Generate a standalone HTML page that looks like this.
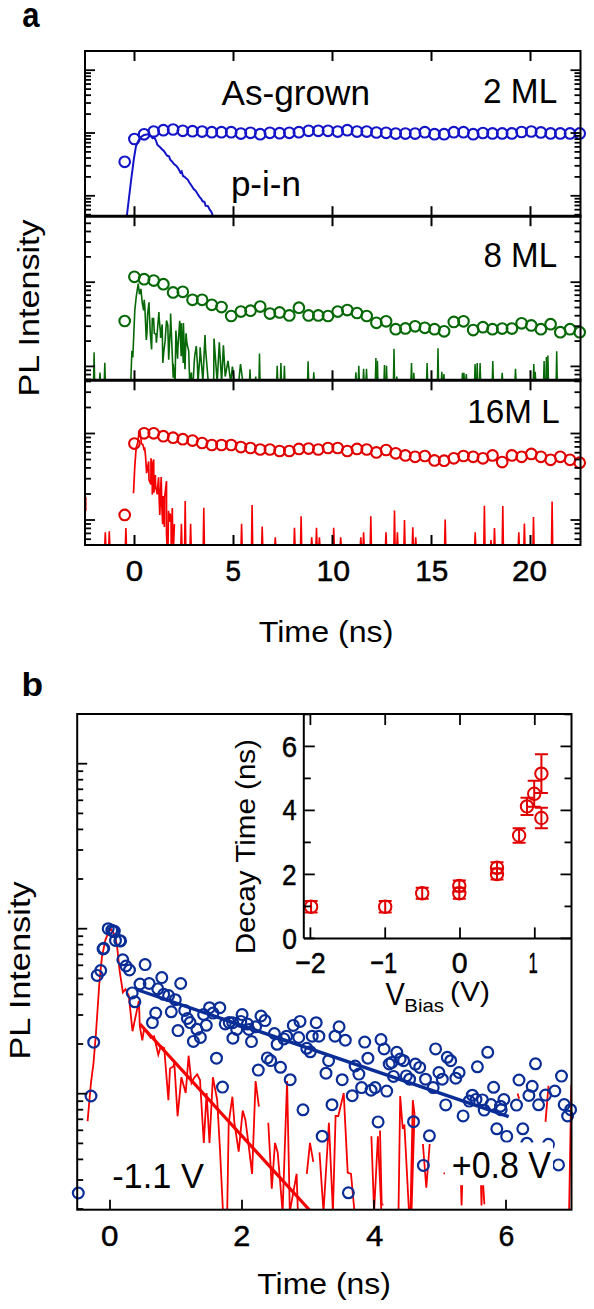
<!DOCTYPE html>
<html><head><meta charset="utf-8"><title>figure</title>
<style>html,body{margin:0;padding:0;background:#fff;}body{width:594px;height:1309px;overflow:hidden;}svg{display:block;}text{font-family:"Liberation Sans",sans-serif;}</style>
</head><body>
<svg width="594" height="1309" viewBox="0 0 594 1309">
<rect width="594" height="1309" fill="#fff"/>
<defs>
<clipPath id="ca1"><rect x="85" y="51" width="495.5" height="165.2"/></clipPath>
<clipPath id="ca2"><rect x="85" y="216.2" width="495.5" height="164.10000000000002"/></clipPath>
<clipPath id="ca3"><rect x="85" y="380.3" width="495.5" height="164.7"/></clipPath>
<clipPath id="cb"><rect x="77.2" y="714" width="494.3" height="495.7"/></clipPath>
</defs>
<g clip-path="url(#ca1)">
<polyline points="126.7,217 131,181 134,158 136,146 138.5,140.5 141,137 144,135 147,134.6 149,134.3 150.7,136 152.5,138.1 153.8,136.9 155.9,140.3 157.3,144.8 159,146.3 160.6,147.7 162,149.2 164.1,151.2 166,154.1 167.3,155.8 169,156.3 170.3,159.8 172,161.4 174,164.1 176.2,165.7 178.2,168.3 180.3,172.4 181.6,171.3 183,176 184.6,176.8 186.1,178.2 187.7,179.6 189.5,182.7 191.6,185.7 193.7,189 195.9,191.1 197.3,193.5 199.5,196.8 201.2,198.8 202.6,201.3 204.4,201.9 205.7,205.8 207.9,206.1 209.9,210 211.2,211.5 213.2,216.5 214.4,217.5" fill="none" stroke="#1414c8" stroke-width="2.0" stroke-linejoin="miter" />
</g>
<g fill="none" stroke="#1414c8" stroke-width="2.1"><circle cx="124.7" cy="161.8" r="5.3"/><circle cx="134.4" cy="139" r="5.3"/><circle cx="144.1" cy="134.3" r="5.3"/><circle cx="153.7" cy="131.6" r="5.3"/><circle cx="163.4" cy="130.2" r="5.3"/><circle cx="173.1" cy="129.5" r="5.3"/><circle cx="182.8" cy="130.8" r="5.3"/><circle cx="192.5" cy="131.2" r="5.3"/><circle cx="202.1" cy="131.6" r="5.3"/><circle cx="211.8" cy="132.2" r="5.3"/><circle cx="221.5" cy="132.2" r="5.3"/><circle cx="231.2" cy="132.2" r="5.3"/><circle cx="240.9" cy="133.6" r="5.3"/><circle cx="250.5" cy="132.8" r="5.3"/><circle cx="260.2" cy="134.2" r="5.3"/><circle cx="269.9" cy="132.8" r="5.3"/><circle cx="279.6" cy="133.2" r="5.3"/><circle cx="289.3" cy="132.8" r="5.3"/><circle cx="298.9" cy="132.2" r="5.3"/><circle cx="308.6" cy="130.8" r="5.3"/><circle cx="318.3" cy="130.8" r="5.3"/><circle cx="328" cy="130.8" r="5.3"/><circle cx="337.7" cy="131.6" r="5.3"/><circle cx="347.3" cy="130.2" r="5.3"/><circle cx="357" cy="131.6" r="5.3"/><circle cx="366.7" cy="131.6" r="5.3"/><circle cx="376.4" cy="132.5" r="5.3"/><circle cx="386.1" cy="132.8" r="5.3"/><circle cx="395.7" cy="133.6" r="5.3"/><circle cx="405.4" cy="133.6" r="5.3"/><circle cx="415.1" cy="133.6" r="5.3"/><circle cx="424.8" cy="132.2" r="5.3"/><circle cx="434.5" cy="134.2" r="5.3"/><circle cx="444.1" cy="134.2" r="5.3"/><circle cx="453.8" cy="132.2" r="5.3"/><circle cx="463.5" cy="132.2" r="5.3"/><circle cx="473.2" cy="134.2" r="5.3"/><circle cx="482.9" cy="133" r="5.3"/><circle cx="492.5" cy="133.4" r="5.3"/><circle cx="502.2" cy="133.4" r="5.3"/><circle cx="511.9" cy="133.4" r="5.3"/><circle cx="521.6" cy="132" r="5.3"/><circle cx="531.3" cy="131.5" r="5.3"/><circle cx="540.9" cy="132.4" r="5.3"/><circle cx="550.6" cy="133.4" r="5.3"/><circle cx="560.3" cy="133.4" r="5.3"/><circle cx="570" cy="133.4" r="5.3"/><circle cx="579.7" cy="133.4" r="5.3"/></g>
<g clip-path="url(#ca2)">
<polyline points="130.8,381 131.9,350.8 132.8,357.5 134.8,310.4 136.2,297 138.2,283.5 139.5,294.2 140.9,288.9 142.2,302.3 143.6,310.4 144.2,299.7 144.9,307.7 146.3,340 147,332.5 147.6,314.4 149,302.3 149.3,311.9 150.3,333.3 151.6,349.5 152.3,318.5 153.6,318.5 154.3,333.3 156,334.3 156.4,342.7 158.9,312.1 159.1,317.1 160.4,332 160.6,338 162.2,324.4 162.8,362.9 163.8,351.7 165.1,341.4 166.5,320.5 167.8,325.2 168.7,359.8 170.5,323.9 170.6,313.6 173.2,377.7 173.2,363.8 175.1,382.3 175.9,330.6 177.6,358.8 177.9,348.1 179.7,320.9 181.2,356.3 181.3,323.2 183.3,362.9 183.4,323.1 185,369.2 186,333.3 186.9,343.3 188.7,350.8 189.7,382.3 191.4,372.4 191.6,382.3 193.4,377.7 194.2,362.8 194.7,356.2 196.3,346 197.4,364.3 198,382.3 200,354.8 200.1,347.2 202.9,381.1 205,335 205.6,349.5 208.3,382.3 211.1,382.3 213.7,382.3 214,338.6 215.3,356.3 217.2,382.3 219.3,342.3 221.6,382.3 223.4,345.4 225.2,376.5 228,360.9 230.7,382.3 232.4,366.7 234.3,382.3 236.9,382.3 238.7,382.3 240.5,364 242.9,382.3 244.7,382.3" fill="none" stroke="#066806" stroke-width="1.6" stroke-linejoin="miter" />
<polyline points="93.5,382.3 94.1,352.3 94.7,382.3" fill="none" stroke="#066806" stroke-width="1.5" stroke-linejoin="miter" />
<polyline points="99.4,382.3 100,372.5 100.6,382.3" fill="none" stroke="#066806" stroke-width="1.5" stroke-linejoin="miter" />
<polyline points="104.2,382.3 104.8,362.8 105.4,382.3" fill="none" stroke="#066806" stroke-width="1.5" stroke-linejoin="miter" />
<polyline points="249.4,382.3 250,369.3 250.6,382.3" fill="none" stroke="#066806" stroke-width="1.5" stroke-linejoin="miter" />
<polyline points="255.1,382.3 255.7,376.5 256.3,382.3" fill="none" stroke="#066806" stroke-width="1.5" stroke-linejoin="miter" />
<polyline points="258.9,382.3 259.5,353.6 260.1,382.3" fill="none" stroke="#066806" stroke-width="1.5" stroke-linejoin="miter" />
<polyline points="276.6,382.3 277.2,365.9 277.8,382.3" fill="none" stroke="#066806" stroke-width="1.5" stroke-linejoin="miter" />
<polyline points="280.3,382.3 280.9,363 281.5,382.3" fill="none" stroke="#066806" stroke-width="1.5" stroke-linejoin="miter" />
<polyline points="283.8,382.3 284.4,365.9 285,382.3" fill="none" stroke="#066806" stroke-width="1.5" stroke-linejoin="miter" />
<polyline points="307.5,382.3 308.1,361.3 308.7,382.3" fill="none" stroke="#066806" stroke-width="1.5" stroke-linejoin="miter" />
<polyline points="313.2,382.3 313.8,372.2 314.4,382.3" fill="none" stroke="#066806" stroke-width="1.5" stroke-linejoin="miter" />
<polyline points="355.3,382.3 355.9,372.2 356.5,382.3" fill="none" stroke="#066806" stroke-width="1.5" stroke-linejoin="miter" />
<polyline points="358.2,382.3 358.8,365.9 359.4,382.3" fill="none" stroke="#066806" stroke-width="1.5" stroke-linejoin="miter" />
<polyline points="363,382.3 363.6,368.8 364.2,382.3" fill="none" stroke="#066806" stroke-width="1.5" stroke-linejoin="miter" />
<polyline points="365.9,382.3 366.5,368.8 367.1,382.3" fill="none" stroke="#066806" stroke-width="1.5" stroke-linejoin="miter" />
<polyline points="375.3,382.3 375.9,357.9 376.5,382.3" fill="none" stroke="#066806" stroke-width="1.5" stroke-linejoin="miter" />
<polyline points="376.8,382.3 377.4,360.8 378,382.3" fill="none" stroke="#066806" stroke-width="1.5" stroke-linejoin="miter" />
<polyline points="383.9,382.3 384.5,365 385.1,382.3" fill="none" stroke="#066806" stroke-width="1.5" stroke-linejoin="miter" />
<polyline points="385.9,382.3 386.5,365.9 387.1,382.3" fill="none" stroke="#066806" stroke-width="1.5" stroke-linejoin="miter" />
<polyline points="393.4,382.3 394,348.7 394.6,382.3" fill="none" stroke="#066806" stroke-width="1.5" stroke-linejoin="miter" />
<polyline points="396.2,382.3 396.8,376.5 397.4,382.3" fill="none" stroke="#066806" stroke-width="1.5" stroke-linejoin="miter" />
<polyline points="410.9,382.3 411.5,363 412.1,382.3" fill="none" stroke="#066806" stroke-width="1.5" stroke-linejoin="miter" />
<polyline points="413.2,382.3 413.8,372.7 414.4,382.3" fill="none" stroke="#066806" stroke-width="1.5" stroke-linejoin="miter" />
<polyline points="426.5,382.3 427.1,363 427.7,382.3" fill="none" stroke="#066806" stroke-width="1.5" stroke-linejoin="miter" />
<polyline points="437.4,382.3 438,348.3 438.6,382.3" fill="none" stroke="#066806" stroke-width="1.5" stroke-linejoin="miter" />
<polyline points="441.2,382.3 441.8,371.8 442.4,382.3" fill="none" stroke="#066806" stroke-width="1.5" stroke-linejoin="miter" />
<polyline points="443.3,382.3 443.9,374 444.5,382.3" fill="none" stroke="#066806" stroke-width="1.5" stroke-linejoin="miter" />
<polyline points="461.9,382.3 462.5,372.7 463.1,382.3" fill="none" stroke="#066806" stroke-width="1.5" stroke-linejoin="miter" />
<polyline points="463.3,382.3 463.9,372.7 464.5,382.3" fill="none" stroke="#066806" stroke-width="1.5" stroke-linejoin="miter" />
<polyline points="465.7,382.3 466.3,374 466.9,382.3" fill="none" stroke="#066806" stroke-width="1.5" stroke-linejoin="miter" />
<polyline points="474.5,382.3 475.1,363.9 475.7,382.3" fill="none" stroke="#066806" stroke-width="1.5" stroke-linejoin="miter" />
<polyline points="476.6,382.3 477.2,363 477.8,382.3" fill="none" stroke="#066806" stroke-width="1.5" stroke-linejoin="miter" />
<polyline points="479.5,382.3 480.1,363 480.7,382.3" fill="none" stroke="#066806" stroke-width="1.5" stroke-linejoin="miter" />
<polyline points="492.2,382.3 492.8,360.9 493.4,382.3" fill="none" stroke="#066806" stroke-width="1.5" stroke-linejoin="miter" />
<polyline points="501.6,382.3 502.2,372.7 502.8,382.3" fill="none" stroke="#066806" stroke-width="1.5" stroke-linejoin="miter" />
<polyline points="514.9,382.3 515.5,368.9 516.1,382.3" fill="none" stroke="#066806" stroke-width="1.5" stroke-linejoin="miter" />
<polyline points="533.2,382.3 533.8,363.9 534.4,382.3" fill="none" stroke="#066806" stroke-width="1.5" stroke-linejoin="miter" />
<polyline points="534.6,382.3 535.2,371.8 535.8,382.3" fill="none" stroke="#066806" stroke-width="1.5" stroke-linejoin="miter" />
<polyline points="543.5,382.3 544.1,360.9 544.7,382.3" fill="none" stroke="#066806" stroke-width="1.5" stroke-linejoin="miter" />
<polyline points="545.8,382.3 546.4,357.1 547,382.3" fill="none" stroke="#066806" stroke-width="1.5" stroke-linejoin="miter" />
<polyline points="547.3,382.3 547.9,355.6 548.5,382.3" fill="none" stroke="#066806" stroke-width="1.5" stroke-linejoin="miter" />
<polyline points="556.1,382.3 556.7,351.2 557.3,382.3" fill="none" stroke="#066806" stroke-width="1.5" stroke-linejoin="miter" />
</g>
<g fill="none" stroke="#066806" stroke-width="2.1"><circle cx="124.7" cy="321" r="5.3"/><circle cx="134.4" cy="276.8" r="5.3"/><circle cx="144.1" cy="279.2" r="5.3"/><circle cx="153.7" cy="280.6" r="5.3"/><circle cx="163.4" cy="284.2" r="5.3"/><circle cx="173.1" cy="292.4" r="5.3"/><circle cx="182.8" cy="291.8" r="5.3"/><circle cx="192.5" cy="299.8" r="5.3"/><circle cx="202.1" cy="299.8" r="5.3"/><circle cx="211.8" cy="304.8" r="5.3"/><circle cx="221.5" cy="307.1" r="5.3"/><circle cx="231.2" cy="316" r="5.3"/><circle cx="240.9" cy="311.6" r="5.3"/><circle cx="250.5" cy="310.7" r="5.3"/><circle cx="260.2" cy="306.6" r="5.3"/><circle cx="269.9" cy="313.6" r="5.3"/><circle cx="279.6" cy="312.4" r="5.3"/><circle cx="289.3" cy="315.4" r="5.3"/><circle cx="298.9" cy="307.7" r="5.3"/><circle cx="308.6" cy="315.4" r="5.3"/><circle cx="318.3" cy="315.4" r="5.3"/><circle cx="328" cy="316" r="5.3"/><circle cx="337.7" cy="311.6" r="5.3"/><circle cx="347.3" cy="310.1" r="5.3"/><circle cx="357" cy="313" r="5.3"/><circle cx="366.7" cy="316" r="5.3"/><circle cx="376.4" cy="322.8" r="5.3"/><circle cx="386.1" cy="321.3" r="5.3"/><circle cx="395.7" cy="329.2" r="5.3"/><circle cx="405.4" cy="328.4" r="5.3"/><circle cx="415.1" cy="326.3" r="5.3"/><circle cx="424.8" cy="327.8" r="5.3"/><circle cx="434.5" cy="329.2" r="5.3"/><circle cx="444.1" cy="331.3" r="5.3"/><circle cx="453.8" cy="321.9" r="5.3"/><circle cx="463.5" cy="321.3" r="5.3"/><circle cx="473.2" cy="330.1" r="5.3"/><circle cx="482.9" cy="327.2" r="5.3"/><circle cx="492.5" cy="329.2" r="5.3"/><circle cx="502.2" cy="328.6" r="5.3"/><circle cx="511.9" cy="328.6" r="5.3"/><circle cx="521.6" cy="323.3" r="5.3"/><circle cx="531.3" cy="325.4" r="5.3"/><circle cx="540.9" cy="329.2" r="5.3"/><circle cx="550.6" cy="324.2" r="5.3"/><circle cx="560.3" cy="332.2" r="5.3"/><circle cx="570" cy="329.2" r="5.3"/><circle cx="579.7" cy="332.2" r="5.3"/></g>
<g clip-path="url(#ca3)">
<polyline points="133.5,493.3 134.8,466.4 136.2,447.5 137.5,443.5 138.9,434 140.2,432.7 141.5,443.5 142.9,444.8 144.2,450.2 144.6,447.3 145.6,456.9 146.6,473.1 148.3,463.7 148.7,461.5 149,479.8 150.9,484.4 151,458.3 152.2,464.4 152.3,494.6 153.7,459.6 153.9,492.6 155.3,475.1 155.7,486.6 157.3,494.4 157.7,487.9 158.6,477.3 159.1,496 159.8,515 160.4,497.3 161.2,477.1 161.8,505.4 162.7,524.2 163.1,496 164.4,527 164.6,497.6 166.5,481.2 166.5,533.9 167.1,546 168,547 168.5,510.8 169.3,522 169.8,513.5 171.1,517.9 171.2,546 172.3,508.1 172.7,538.8 173.5,546 174.4,524.1" fill="none" stroke="#f50000" stroke-width="1.7" stroke-linejoin="miter" />
<polyline points="104.7,547 105.3,532.4 105.9,547" fill="none" stroke="#f50000" stroke-width="1.6" stroke-linejoin="miter" />
<polyline points="108.7,547 109.3,531.4 109.9,547" fill="none" stroke="#f50000" stroke-width="1.6" stroke-linejoin="miter" />
<polyline points="125.3,547 125.9,528 126.5,547" fill="none" stroke="#f50000" stroke-width="1.6" stroke-linejoin="miter" />
<polyline points="180.8,547 181.4,523.8 182,547" fill="none" stroke="#f50000" stroke-width="1.6" stroke-linejoin="miter" />
<polyline points="184.6,547 185.2,500.9 185.8,547" fill="none" stroke="#f50000" stroke-width="1.6" stroke-linejoin="miter" />
<polyline points="190,547 190.6,523.8 191.2,547" fill="none" stroke="#f50000" stroke-width="1.6" stroke-linejoin="miter" />
<polyline points="203.2,547 203.8,507.7 204.4,547" fill="none" stroke="#f50000" stroke-width="1.6" stroke-linejoin="miter" />
<polyline points="241,547 241.6,523.8 242.2,547" fill="none" stroke="#f50000" stroke-width="1.6" stroke-linejoin="miter" />
<polyline points="251.5,547 252.1,504.9 252.7,547" fill="none" stroke="#f50000" stroke-width="1.6" stroke-linejoin="miter" />
<polyline points="261.6,547 262.2,526.6 262.8,547" fill="none" stroke="#f50000" stroke-width="1.6" stroke-linejoin="miter" />
<polyline points="274.7,547 275.3,537.2 275.9,547" fill="none" stroke="#f50000" stroke-width="1.6" stroke-linejoin="miter" />
<polyline points="293.9,547 294.5,527.8 295.1,547" fill="none" stroke="#f50000" stroke-width="1.6" stroke-linejoin="miter" />
<polyline points="300.5,547 301.1,516.3 301.7,547" fill="none" stroke="#f50000" stroke-width="1.6" stroke-linejoin="miter" />
<polyline points="311.1,547 311.7,537.2 312.3,547" fill="none" stroke="#f50000" stroke-width="1.6" stroke-linejoin="miter" />
<polyline points="315.9,547 316.5,527.8 317.1,547" fill="none" stroke="#f50000" stroke-width="1.6" stroke-linejoin="miter" />
<polyline points="318.8,547 319.4,537.2 320,547" fill="none" stroke="#f50000" stroke-width="1.6" stroke-linejoin="miter" />
<polyline points="333.1,547 333.7,527.8 334.3,547" fill="none" stroke="#f50000" stroke-width="1.6" stroke-linejoin="miter" />
<polyline points="340.1,547 340.7,537.2 341.3,547" fill="none" stroke="#f50000" stroke-width="1.6" stroke-linejoin="miter" />
<polyline points="360.2,547 360.8,537.2 361.4,547" fill="none" stroke="#f50000" stroke-width="1.6" stroke-linejoin="miter" />
<polyline points="363,547 363.6,532.4 364.2,547" fill="none" stroke="#f50000" stroke-width="1.6" stroke-linejoin="miter" />
<polyline points="370.2,547 370.8,516.3 371.4,547" fill="none" stroke="#f50000" stroke-width="1.6" stroke-linejoin="miter" />
<polyline points="385.4,547 386,532.4 386.6,547" fill="none" stroke="#f50000" stroke-width="1.6" stroke-linejoin="miter" />
<polyline points="393.9,547 394.5,510.6 395.1,547" fill="none" stroke="#f50000" stroke-width="1.6" stroke-linejoin="miter" />
<polyline points="396.8,547 397.4,532.4 398,547" fill="none" stroke="#f50000" stroke-width="1.6" stroke-linejoin="miter" />
<polyline points="403.9,547 404.5,520 405.1,547" fill="none" stroke="#f50000" stroke-width="1.6" stroke-linejoin="miter" />
<polyline points="412.2,547 412.8,527.2 413.4,547" fill="none" stroke="#f50000" stroke-width="1.6" stroke-linejoin="miter" />
<polyline points="415.1,547 415.7,537.2 416.3,547" fill="none" stroke="#f50000" stroke-width="1.6" stroke-linejoin="miter" />
<polyline points="444.6,547 445.2,519.5 445.8,547" fill="none" stroke="#f50000" stroke-width="1.6" stroke-linejoin="miter" />
<polyline points="474.6,547 475.2,532.4 475.8,547" fill="none" stroke="#f50000" stroke-width="1.6" stroke-linejoin="miter" />
<polyline points="483.8,547 484.4,505.7 485,547" fill="none" stroke="#f50000" stroke-width="1.6" stroke-linejoin="miter" />
<polyline points="490.4,547 491,540 491.6,547" fill="none" stroke="#f50000" stroke-width="1.6" stroke-linejoin="miter" />
<polyline points="493.9,547 494.5,528.1 495.1,547" fill="none" stroke="#f50000" stroke-width="1.6" stroke-linejoin="miter" />
<polyline points="502.2,547 502.8,506 503.4,547" fill="none" stroke="#f50000" stroke-width="1.6" stroke-linejoin="miter" />
<polyline points="518.2,547 518.8,532.4 519.4,547" fill="none" stroke="#f50000" stroke-width="1.6" stroke-linejoin="miter" />
<polyline points="523.8,547 524.4,523.6 525,547" fill="none" stroke="#f50000" stroke-width="1.6" stroke-linejoin="miter" />
<polyline points="532.9,547 533.5,516.9 534.1,547" fill="none" stroke="#f50000" stroke-width="1.6" stroke-linejoin="miter" />
<polyline points="551.5,547 552.1,501.5 552.7,547" fill="none" stroke="#f50000" stroke-width="1.6" stroke-linejoin="miter" />
<polyline points="85.8,497 85.8,511" fill="none" stroke="#f50000" stroke-width="1.6" stroke-linejoin="miter" />
</g>
<g fill="none" stroke="#e00000" stroke-width="2.1"><circle cx="124.7" cy="514.9" r="5.3"/><circle cx="134.4" cy="443.6" r="5.3"/><circle cx="144.1" cy="433.3" r="5.3"/><circle cx="153.7" cy="433.3" r="5.3"/><circle cx="163.4" cy="436.2" r="5.3"/><circle cx="173.1" cy="437.7" r="5.3"/><circle cx="182.8" cy="439.2" r="5.3"/><circle cx="192.5" cy="440.6" r="5.3"/><circle cx="202.1" cy="443" r="5.3"/><circle cx="211.8" cy="445" r="5.3"/><circle cx="221.5" cy="445" r="5.3"/><circle cx="231.2" cy="445" r="5.3"/><circle cx="240.9" cy="447.1" r="5.3"/><circle cx="250.5" cy="448" r="5.3"/><circle cx="260.2" cy="449.5" r="5.3"/><circle cx="269.9" cy="449.5" r="5.3"/><circle cx="279.6" cy="451" r="5.3"/><circle cx="289.3" cy="451" r="5.3"/><circle cx="298.9" cy="448.9" r="5.3"/><circle cx="308.6" cy="448.6" r="5.3"/><circle cx="318.3" cy="449.5" r="5.3"/><circle cx="328" cy="448" r="5.3"/><circle cx="337.7" cy="448" r="5.3"/><circle cx="347.3" cy="451" r="5.3"/><circle cx="357" cy="448.9" r="5.3"/><circle cx="366.7" cy="449.5" r="5.3"/><circle cx="376.4" cy="452.4" r="5.3"/><circle cx="386.1" cy="450" r="5.3"/><circle cx="395.7" cy="453.3" r="5.3"/><circle cx="405.4" cy="455.4" r="5.3"/><circle cx="415.1" cy="456.8" r="5.3"/><circle cx="424.8" cy="456" r="5.3"/><circle cx="434.5" cy="460.4" r="5.3"/><circle cx="444.1" cy="460.7" r="5.3"/><circle cx="453.8" cy="458.3" r="5.3"/><circle cx="463.5" cy="456" r="5.3"/><circle cx="473.2" cy="456.8" r="5.3"/><circle cx="482.9" cy="458.3" r="5.3"/><circle cx="492.5" cy="455.4" r="5.3"/><circle cx="502.2" cy="462.1" r="5.3"/><circle cx="511.9" cy="455.4" r="5.3"/><circle cx="521.6" cy="456.8" r="5.3"/><circle cx="531.3" cy="453.9" r="5.3"/><circle cx="540.9" cy="456.8" r="5.3"/><circle cx="550.6" cy="459.8" r="5.3"/><circle cx="560.3" cy="456.8" r="5.3"/><circle cx="570" cy="459.8" r="5.3"/><circle cx="579.7" cy="462.7" r="5.3"/></g>
<g stroke="#000" fill="none">
<rect x="85" y="51" width="495.5" height="494" stroke-width="2"/>
<line x1="84" y1="216.2" x2="581.5" y2="216.2" stroke="#000" stroke-width="3"/>
<line x1="84" y1="380.3" x2="581.5" y2="380.3" stroke="#000" stroke-width="3"/>
<line x1="134.5" y1="51" x2="134.5" y2="61" stroke="#000" stroke-width="2"/>
<line x1="134.5" y1="206.2" x2="134.5" y2="226.2" stroke="#000" stroke-width="2"/>
<line x1="134.5" y1="370.3" x2="134.5" y2="390.3" stroke="#000" stroke-width="2"/>
<line x1="134.5" y1="535" x2="134.5" y2="545" stroke="#000" stroke-width="2"/>
<line x1="233.5" y1="51" x2="233.5" y2="61" stroke="#000" stroke-width="2"/>
<line x1="233.5" y1="206.2" x2="233.5" y2="226.2" stroke="#000" stroke-width="2"/>
<line x1="233.5" y1="370.3" x2="233.5" y2="390.3" stroke="#000" stroke-width="2"/>
<line x1="233.5" y1="535" x2="233.5" y2="545" stroke="#000" stroke-width="2"/>
<line x1="332.5" y1="51" x2="332.5" y2="61" stroke="#000" stroke-width="2"/>
<line x1="332.5" y1="206.2" x2="332.5" y2="226.2" stroke="#000" stroke-width="2"/>
<line x1="332.5" y1="370.3" x2="332.5" y2="390.3" stroke="#000" stroke-width="2"/>
<line x1="332.5" y1="535" x2="332.5" y2="545" stroke="#000" stroke-width="2"/>
<line x1="431.5" y1="51" x2="431.5" y2="61" stroke="#000" stroke-width="2"/>
<line x1="431.5" y1="206.2" x2="431.5" y2="226.2" stroke="#000" stroke-width="2"/>
<line x1="431.5" y1="370.3" x2="431.5" y2="390.3" stroke="#000" stroke-width="2"/>
<line x1="431.5" y1="535" x2="431.5" y2="545" stroke="#000" stroke-width="2"/>
<line x1="530.5" y1="51" x2="530.5" y2="61" stroke="#000" stroke-width="2"/>
<line x1="530.5" y1="206.2" x2="530.5" y2="226.2" stroke="#000" stroke-width="2"/>
<line x1="530.5" y1="370.3" x2="530.5" y2="390.3" stroke="#000" stroke-width="2"/>
<line x1="530.5" y1="535" x2="530.5" y2="545" stroke="#000" stroke-width="2"/>
<line x1="85" y1="214.7" x2="91" y2="214.7" stroke="#000" stroke-width="1.8"/>
<line x1="574.5" y1="214.7" x2="580.5" y2="214.7" stroke="#000" stroke-width="1.8"/>
<line x1="85" y1="209.7" x2="91" y2="209.7" stroke="#000" stroke-width="1.8"/>
<line x1="574.5" y1="209.7" x2="580.5" y2="209.7" stroke="#000" stroke-width="1.8"/>
<line x1="85" y1="205.5" x2="91" y2="205.5" stroke="#000" stroke-width="1.8"/>
<line x1="574.5" y1="205.5" x2="580.5" y2="205.5" stroke="#000" stroke-width="1.8"/>
<line x1="85" y1="201.9" x2="91" y2="201.9" stroke="#000" stroke-width="1.8"/>
<line x1="574.5" y1="201.9" x2="580.5" y2="201.9" stroke="#000" stroke-width="1.8"/>
<line x1="85" y1="198.7" x2="91" y2="198.7" stroke="#000" stroke-width="1.8"/>
<line x1="574.5" y1="198.7" x2="580.5" y2="198.7" stroke="#000" stroke-width="1.8"/>
<line x1="85" y1="195.8" x2="95" y2="195.8" stroke="#000" stroke-width="1.8"/>
<line x1="570.5" y1="195.8" x2="580.5" y2="195.8" stroke="#000" stroke-width="1.8"/>
<line x1="85" y1="176.9" x2="91" y2="176.9" stroke="#000" stroke-width="1.8"/>
<line x1="574.5" y1="176.9" x2="580.5" y2="176.9" stroke="#000" stroke-width="1.8"/>
<line x1="85" y1="165.8" x2="91" y2="165.8" stroke="#000" stroke-width="1.8"/>
<line x1="574.5" y1="165.8" x2="580.5" y2="165.8" stroke="#000" stroke-width="1.8"/>
<line x1="85" y1="158" x2="91" y2="158" stroke="#000" stroke-width="1.8"/>
<line x1="574.5" y1="158" x2="580.5" y2="158" stroke="#000" stroke-width="1.8"/>
<line x1="85" y1="151.9" x2="91" y2="151.9" stroke="#000" stroke-width="1.8"/>
<line x1="574.5" y1="151.9" x2="580.5" y2="151.9" stroke="#000" stroke-width="1.8"/>
<line x1="85" y1="146.9" x2="91" y2="146.9" stroke="#000" stroke-width="1.8"/>
<line x1="574.5" y1="146.9" x2="580.5" y2="146.9" stroke="#000" stroke-width="1.8"/>
<line x1="85" y1="142.7" x2="91" y2="142.7" stroke="#000" stroke-width="1.8"/>
<line x1="574.5" y1="142.7" x2="580.5" y2="142.7" stroke="#000" stroke-width="1.8"/>
<line x1="85" y1="139.1" x2="91" y2="139.1" stroke="#000" stroke-width="1.8"/>
<line x1="574.5" y1="139.1" x2="580.5" y2="139.1" stroke="#000" stroke-width="1.8"/>
<line x1="85" y1="135.9" x2="91" y2="135.9" stroke="#000" stroke-width="1.8"/>
<line x1="574.5" y1="135.9" x2="580.5" y2="135.9" stroke="#000" stroke-width="1.8"/>
<line x1="85" y1="133" x2="95" y2="133" stroke="#000" stroke-width="1.8"/>
<line x1="570.5" y1="133" x2="580.5" y2="133" stroke="#000" stroke-width="1.8"/>
<line x1="85" y1="114.1" x2="91" y2="114.1" stroke="#000" stroke-width="1.8"/>
<line x1="574.5" y1="114.1" x2="580.5" y2="114.1" stroke="#000" stroke-width="1.8"/>
<line x1="85" y1="103" x2="91" y2="103" stroke="#000" stroke-width="1.8"/>
<line x1="574.5" y1="103" x2="580.5" y2="103" stroke="#000" stroke-width="1.8"/>
<line x1="85" y1="95.2" x2="91" y2="95.2" stroke="#000" stroke-width="1.8"/>
<line x1="574.5" y1="95.2" x2="580.5" y2="95.2" stroke="#000" stroke-width="1.8"/>
<line x1="85" y1="89.1" x2="91" y2="89.1" stroke="#000" stroke-width="1.8"/>
<line x1="574.5" y1="89.1" x2="580.5" y2="89.1" stroke="#000" stroke-width="1.8"/>
<line x1="85" y1="84.1" x2="91" y2="84.1" stroke="#000" stroke-width="1.8"/>
<line x1="574.5" y1="84.1" x2="580.5" y2="84.1" stroke="#000" stroke-width="1.8"/>
<line x1="85" y1="79.9" x2="91" y2="79.9" stroke="#000" stroke-width="1.8"/>
<line x1="574.5" y1="79.9" x2="580.5" y2="79.9" stroke="#000" stroke-width="1.8"/>
<line x1="85" y1="76.3" x2="91" y2="76.3" stroke="#000" stroke-width="1.8"/>
<line x1="574.5" y1="76.3" x2="580.5" y2="76.3" stroke="#000" stroke-width="1.8"/>
<line x1="85" y1="73.1" x2="91" y2="73.1" stroke="#000" stroke-width="1.8"/>
<line x1="574.5" y1="73.1" x2="580.5" y2="73.1" stroke="#000" stroke-width="1.8"/>
<line x1="85" y1="70.2" x2="95" y2="70.2" stroke="#000" stroke-width="1.8"/>
<line x1="570.5" y1="70.2" x2="580.5" y2="70.2" stroke="#000" stroke-width="1.8"/>
<line x1="85" y1="379.4" x2="91" y2="379.4" stroke="#000" stroke-width="1.8"/>
<line x1="574.5" y1="379.4" x2="580.5" y2="379.4" stroke="#000" stroke-width="1.8"/>
<line x1="85" y1="374.6" x2="91" y2="374.6" stroke="#000" stroke-width="1.8"/>
<line x1="574.5" y1="374.6" x2="580.5" y2="374.6" stroke="#000" stroke-width="1.8"/>
<line x1="85" y1="370.3" x2="91" y2="370.3" stroke="#000" stroke-width="1.8"/>
<line x1="574.5" y1="370.3" x2="580.5" y2="370.3" stroke="#000" stroke-width="1.8"/>
<line x1="85" y1="366.4" x2="95" y2="366.4" stroke="#000" stroke-width="1.8"/>
<line x1="570.5" y1="366.4" x2="580.5" y2="366.4" stroke="#000" stroke-width="1.8"/>
<line x1="85" y1="341.1" x2="91" y2="341.1" stroke="#000" stroke-width="1.8"/>
<line x1="574.5" y1="341.1" x2="580.5" y2="341.1" stroke="#000" stroke-width="1.8"/>
<line x1="85" y1="326.2" x2="91" y2="326.2" stroke="#000" stroke-width="1.8"/>
<line x1="574.5" y1="326.2" x2="580.5" y2="326.2" stroke="#000" stroke-width="1.8"/>
<line x1="85" y1="315.7" x2="91" y2="315.7" stroke="#000" stroke-width="1.8"/>
<line x1="574.5" y1="315.7" x2="580.5" y2="315.7" stroke="#000" stroke-width="1.8"/>
<line x1="85" y1="307.5" x2="91" y2="307.5" stroke="#000" stroke-width="1.8"/>
<line x1="574.5" y1="307.5" x2="580.5" y2="307.5" stroke="#000" stroke-width="1.8"/>
<line x1="85" y1="300.9" x2="91" y2="300.9" stroke="#000" stroke-width="1.8"/>
<line x1="574.5" y1="300.9" x2="580.5" y2="300.9" stroke="#000" stroke-width="1.8"/>
<line x1="85" y1="295.2" x2="91" y2="295.2" stroke="#000" stroke-width="1.8"/>
<line x1="574.5" y1="295.2" x2="580.5" y2="295.2" stroke="#000" stroke-width="1.8"/>
<line x1="85" y1="290.4" x2="91" y2="290.4" stroke="#000" stroke-width="1.8"/>
<line x1="574.5" y1="290.4" x2="580.5" y2="290.4" stroke="#000" stroke-width="1.8"/>
<line x1="85" y1="286.1" x2="91" y2="286.1" stroke="#000" stroke-width="1.8"/>
<line x1="574.5" y1="286.1" x2="580.5" y2="286.1" stroke="#000" stroke-width="1.8"/>
<line x1="85" y1="282.2" x2="95" y2="282.2" stroke="#000" stroke-width="1.8"/>
<line x1="570.5" y1="282.2" x2="580.5" y2="282.2" stroke="#000" stroke-width="1.8"/>
<line x1="85" y1="256.9" x2="91" y2="256.9" stroke="#000" stroke-width="1.8"/>
<line x1="574.5" y1="256.9" x2="580.5" y2="256.9" stroke="#000" stroke-width="1.8"/>
<line x1="85" y1="242" x2="91" y2="242" stroke="#000" stroke-width="1.8"/>
<line x1="574.5" y1="242" x2="580.5" y2="242" stroke="#000" stroke-width="1.8"/>
<line x1="85" y1="231.5" x2="91" y2="231.5" stroke="#000" stroke-width="1.8"/>
<line x1="574.5" y1="231.5" x2="580.5" y2="231.5" stroke="#000" stroke-width="1.8"/>
<line x1="85" y1="223.3" x2="91" y2="223.3" stroke="#000" stroke-width="1.8"/>
<line x1="574.5" y1="223.3" x2="580.5" y2="223.3" stroke="#000" stroke-width="1.8"/>
<line x1="85" y1="539.2" x2="91" y2="539.2" stroke="#000" stroke-width="1.8"/>
<line x1="574.5" y1="539.2" x2="580.5" y2="539.2" stroke="#000" stroke-width="1.8"/>
<line x1="85" y1="533.4" x2="91" y2="533.4" stroke="#000" stroke-width="1.8"/>
<line x1="574.5" y1="533.4" x2="580.5" y2="533.4" stroke="#000" stroke-width="1.8"/>
<line x1="85" y1="528.4" x2="91" y2="528.4" stroke="#000" stroke-width="1.8"/>
<line x1="574.5" y1="528.4" x2="580.5" y2="528.4" stroke="#000" stroke-width="1.8"/>
<line x1="85" y1="524" x2="91" y2="524" stroke="#000" stroke-width="1.8"/>
<line x1="574.5" y1="524" x2="580.5" y2="524" stroke="#000" stroke-width="1.8"/>
<line x1="85" y1="520" x2="95" y2="520" stroke="#000" stroke-width="1.8"/>
<line x1="570.5" y1="520" x2="580.5" y2="520" stroke="#000" stroke-width="1.8"/>
<line x1="85" y1="494" x2="91" y2="494" stroke="#000" stroke-width="1.8"/>
<line x1="574.5" y1="494" x2="580.5" y2="494" stroke="#000" stroke-width="1.8"/>
<line x1="85" y1="478.7" x2="91" y2="478.7" stroke="#000" stroke-width="1.8"/>
<line x1="574.5" y1="478.7" x2="580.5" y2="478.7" stroke="#000" stroke-width="1.8"/>
<line x1="85" y1="467.9" x2="91" y2="467.9" stroke="#000" stroke-width="1.8"/>
<line x1="574.5" y1="467.9" x2="580.5" y2="467.9" stroke="#000" stroke-width="1.8"/>
<line x1="85" y1="459.5" x2="91" y2="459.5" stroke="#000" stroke-width="1.8"/>
<line x1="574.5" y1="459.5" x2="580.5" y2="459.5" stroke="#000" stroke-width="1.8"/>
<line x1="85" y1="452.7" x2="91" y2="452.7" stroke="#000" stroke-width="1.8"/>
<line x1="574.5" y1="452.7" x2="580.5" y2="452.7" stroke="#000" stroke-width="1.8"/>
<line x1="85" y1="446.9" x2="91" y2="446.9" stroke="#000" stroke-width="1.8"/>
<line x1="574.5" y1="446.9" x2="580.5" y2="446.9" stroke="#000" stroke-width="1.8"/>
<line x1="85" y1="441.9" x2="91" y2="441.9" stroke="#000" stroke-width="1.8"/>
<line x1="574.5" y1="441.9" x2="580.5" y2="441.9" stroke="#000" stroke-width="1.8"/>
<line x1="85" y1="437.5" x2="91" y2="437.5" stroke="#000" stroke-width="1.8"/>
<line x1="574.5" y1="437.5" x2="580.5" y2="437.5" stroke="#000" stroke-width="1.8"/>
<line x1="85" y1="433.5" x2="95" y2="433.5" stroke="#000" stroke-width="1.8"/>
<line x1="570.5" y1="433.5" x2="580.5" y2="433.5" stroke="#000" stroke-width="1.8"/>
<line x1="85" y1="407.5" x2="91" y2="407.5" stroke="#000" stroke-width="1.8"/>
<line x1="574.5" y1="407.5" x2="580.5" y2="407.5" stroke="#000" stroke-width="1.8"/>
<line x1="85" y1="392.2" x2="91" y2="392.2" stroke="#000" stroke-width="1.8"/>
<line x1="574.5" y1="392.2" x2="580.5" y2="392.2" stroke="#000" stroke-width="1.8"/>
<line x1="85" y1="381.4" x2="91" y2="381.4" stroke="#000" stroke-width="1.8"/>
<line x1="574.5" y1="381.4" x2="580.5" y2="381.4" stroke="#000" stroke-width="1.8"/>
</g>
<g clip-path="url(#cb)">
<polyline points="87.6,1121.2 90.9,1083.4 93.5,1063.1 96,1032.8 99.4,982.3 101.9,957.1 105.3,940.3 108.6,931.8 111.1,929.3 113.7,933.5 115.4,938.6 117,945.3 119.6,970.6 122.9,992.4 125.5,989.1 128.8,995.8 132.5,1031.2 136.4,1012.6 138.9,1000.9 139.8,1026.1 142.3,1040.4 144,1029.5 145.7,1031.2 148.2,1034.5 150.7,1037.9 154.1,1036.2 158.3,1054.7 160.8,1046.3 164.2,1048 168.4,1100.2 170,1068.6 173.4,1066.5 174.3,1062.9 177.6,1116.2 181.4,1077.2 185.7,1093 188.6,1055.7 191.5,1082.9 194,1078 197.2,1074.3 200,1080 203.8,1143 206.6,1093 209.5,1143 212.9,1077.2 217.2,1100.1 220,1150 223,1212 227.2,1212 228.7,1123 232.4,1096.7 234.4,1123 238.7,1151.6 242.7,1110.6 245.4,1120 247.3,1134.4 252.1,1173.9 255.6,1081 258.9,1106.6" fill="none" stroke="#f50000" stroke-width="1.8" stroke-linejoin="miter" />
<polyline points="268.3,1122.7 271.8,1188.7 275,1142.9 277.7,1152.4 282.6,1212 287.1,1081 289.8,1212 296.6,1173.9 297.9,1212" fill="none" stroke="#f50000" stroke-width="1.8" stroke-linejoin="miter" />
<polyline points="306.8,1173.9 310,1142.9 313.3,1161.8" fill="none" stroke="#f50000" stroke-width="1.8" stroke-linejoin="miter" />
<polyline points="319.5,1152.4 323.5,1212 328.9,1122.7 332.9,1212 335.6,1116 338.3,1116 343.7,1093.1 347.7,1172.6 351,1173.9 354.5,1212" fill="none" stroke="#f50000" stroke-width="1.8" stroke-linejoin="miter" />
<polyline points="371.4,1136.2 374.1,1212 377.9,1136.2 381.4,1212 384.1,1212" fill="none" stroke="#f50000" stroke-width="1.8" stroke-linejoin="miter" />
<polyline points="380,1130.5 381.7,1204.6 383.4,1204.6" fill="none" stroke="#f50000" stroke-width="1.8" stroke-linejoin="miter" />
<polyline points="398.5,1212 400.2,1096 402.7,1128.8 404.4,1124.6 409,1212 410.5,1212 412.8,1100.2 414.5,1113.7 411.5,1212" fill="none" stroke="#f50000" stroke-width="1.8" stroke-linejoin="miter" />
<polyline points="422.9,1144 426.3,1187.7 429.7,1144" fill="none" stroke="#f50000" stroke-width="1.8" stroke-linejoin="miter" />
<polyline points="443.5,1173.4 445,1173.4" fill="none" stroke="#f50000" stroke-width="1.8" stroke-linejoin="miter" />
<polyline points="461,1185.2 461.6,1205.4 462.2,1185.2" fill="none" stroke="#f50000" stroke-width="1.8" stroke-linejoin="miter" />
<polyline points="481,1185.2 481.5,1205.4 482,1185.2" fill="none" stroke="#f50000" stroke-width="1.8" stroke-linejoin="miter" />
<polyline points="483.2,1185.4 484.4,1204.3" fill="none" stroke="#f50000" stroke-width="1.8" stroke-linejoin="miter" />
<polyline points="517.5,1093.5 519.2,1098.7" fill="none" stroke="#f50000" stroke-width="1.8" stroke-linejoin="miter" />
<polyline points="548.5,1085.8 545.5,1121.9" fill="none" stroke="#f50000" stroke-width="1.8" stroke-linejoin="miter" />
<polyline points="571.3,1085 569.1,1212" fill="none" stroke="#f50000" stroke-width="1.8" stroke-linejoin="miter" />
<line x1="140" y1="1024" x2="309.5" y2="1210" stroke="#f50000" stroke-width="3.2"/>
</g>
<g fill="none" stroke="#0a2d96" stroke-width="2.2"><circle cx="93.7" cy="1042.2" r="5.4"/><circle cx="97.2" cy="975.4" r="5.4"/><circle cx="100.7" cy="970.6" r="5.4"/><circle cx="103.1" cy="949" r="5.4"/><circle cx="108.2" cy="928.7" r="5.4"/><circle cx="113.4" cy="931.5" r="5.4"/><circle cx="115.5" cy="940.4" r="5.4"/><circle cx="120.6" cy="940.9" r="5.4"/><circle cx="122.8" cy="959.8" r="5.4"/><circle cx="126" cy="966" r="5.4"/><circle cx="129.5" cy="970" r="5.4"/><circle cx="132.2" cy="992.9" r="5.4"/><circle cx="134.9" cy="1001.8" r="5.4"/><circle cx="140" cy="984" r="5.4"/><circle cx="145.1" cy="964.6" r="5.4"/><circle cx="149.2" cy="983.5" r="5.4"/><circle cx="152.4" cy="1022.6" r="5.4"/><circle cx="155.7" cy="1013.1" r="5.4"/><circle cx="157.8" cy="988.9" r="5.4"/><circle cx="161.8" cy="977.6" r="5.4"/><circle cx="163.7" cy="994.3" r="5.4"/><circle cx="168.6" cy="995.6" r="5.4"/><circle cx="171.3" cy="1011.8" r="5.4"/><circle cx="175.3" cy="999.7" r="5.4"/><circle cx="178" cy="1030.6" r="5.4"/><circle cx="180.7" cy="983.5" r="5.4"/><circle cx="184.7" cy="1010.4" r="5.4"/><circle cx="187.4" cy="1018.5" r="5.4"/><circle cx="190.1" cy="1022.6" r="5.4"/><circle cx="193.4" cy="1041.4" r="5.4"/><circle cx="196.9" cy="1029.3" r="5.4"/><circle cx="200.4" cy="1037.4" r="5.4"/><circle cx="203.6" cy="1014.5" r="5.4"/><circle cx="206.3" cy="1025.3" r="5.4"/><circle cx="209.5" cy="1007.7" r="5.4"/><circle cx="213" cy="1013.1" r="5.4"/><circle cx="219.8" cy="1007.7" r="5.4"/><circle cx="225.2" cy="1023.9" r="5.4"/><circle cx="229.2" cy="1022.6" r="5.4"/><circle cx="232.9" cy="1038.2" r="5.4"/><circle cx="216.5" cy="1058.2" r="5.4"/><circle cx="232.7" cy="1022.7" r="5.4"/><circle cx="236.7" cy="1029.5" r="5.4"/><circle cx="242.1" cy="1014.6" r="5.4"/><circle cx="240.8" cy="1021.4" r="5.4"/><circle cx="247.5" cy="1024.1" r="5.4"/><circle cx="248.9" cy="1029.5" r="5.4"/><circle cx="255.6" cy="1026.8" r="5.4"/><circle cx="251.5" cy="1041.6" r="5.4"/><circle cx="261" cy="1016" r="5.4"/><circle cx="265" cy="1020.6" r="5.4"/><circle cx="274.4" cy="1033.5" r="5.4"/><circle cx="277.1" cy="1044.3" r="5.4"/><circle cx="283.9" cy="1038.9" r="5.4"/><circle cx="286.6" cy="1036.2" r="5.4"/><circle cx="267.3" cy="1057.9" r="5.4"/><circle cx="270.7" cy="1060.6" r="5.4"/><circle cx="258.3" cy="1070.1" r="5.4"/><circle cx="280.5" cy="1067.3" r="5.4"/><circle cx="290.2" cy="1079.7" r="5.4"/><circle cx="293.3" cy="1025.4" r="5.4"/><circle cx="298.7" cy="1037.5" r="5.4"/><circle cx="300" cy="1021.4" r="5.4"/><circle cx="306.8" cy="1048.3" r="5.4"/><circle cx="310.3" cy="1051.8" r="5.4"/><circle cx="312.2" cy="1036.2" r="5.4"/><circle cx="316.2" cy="1022.7" r="5.4"/><circle cx="318.9" cy="1036.2" r="5.4"/><circle cx="328.6" cy="1060.6" r="5.4"/><circle cx="326" cy="1073.2" r="5.4"/><circle cx="335" cy="1036.2" r="5.4"/><circle cx="339.1" cy="1026.8" r="5.4"/><circle cx="345.3" cy="1040.2" r="5.4"/><circle cx="342.2" cy="1079.7" r="5.4"/><circle cx="332" cy="1104.7" r="5.4"/><circle cx="303" cy="1109.8" r="5.4"/><circle cx="352.2" cy="1095.7" r="5.4"/><circle cx="355.1" cy="1066" r="5.4"/><circle cx="358.9" cy="1074.1" r="5.4"/><circle cx="361.6" cy="1087.6" r="5.4"/><circle cx="364.7" cy="1042.1" r="5.4"/><circle cx="367.9" cy="1058.2" r="5.4"/><circle cx="371.1" cy="1090.2" r="5.4"/><circle cx="375.1" cy="1087.6" r="5.4"/><circle cx="381" cy="1039.6" r="5.4"/><circle cx="384.1" cy="1049" r="5.4"/><circle cx="386.7" cy="1091.1" r="5.4"/><circle cx="389.2" cy="1064" r="5.4"/><circle cx="378.1" cy="1121.9" r="5.4"/><circle cx="391.8" cy="1062.4" r="5.4"/><circle cx="393.5" cy="1076.4" r="5.4"/><circle cx="396.8" cy="1052.3" r="5.4"/><circle cx="400.2" cy="1059" r="5.4"/><circle cx="403.6" cy="1060.7" r="5.4"/><circle cx="406.3" cy="1075.9" r="5.4"/><circle cx="409.6" cy="1079.2" r="5.4"/><circle cx="413.5" cy="1121.7" r="5.4"/><circle cx="415.4" cy="1064.1" r="5.4"/><circle cx="419.7" cy="1067.4" r="5.4"/><circle cx="425.5" cy="1079.2" r="5.4"/><circle cx="429.4" cy="1135.8" r="5.4"/><circle cx="433.2" cy="1087.6" r="5.4"/><circle cx="435.6" cy="1048.9" r="5.4"/><circle cx="438.9" cy="1072.5" r="5.4"/><circle cx="442.3" cy="1079.2" r="5.4"/><circle cx="447.3" cy="1057.3" r="5.4"/><circle cx="450.7" cy="1060.7" r="5.4"/><circle cx="455.8" cy="1078.2" r="5.4"/><circle cx="459.1" cy="1072.5" r="5.4"/><circle cx="445.7" cy="1104.9" r="5.4"/><circle cx="463.1" cy="1115.9" r="5.4"/><circle cx="469.2" cy="1101.1" r="5.4"/><circle cx="472.3" cy="1095.2" r="5.4"/><circle cx="476" cy="1099.4" r="5.4"/><circle cx="477.4" cy="1066.8" r="5.4"/><circle cx="482.5" cy="1099.9" r="5.4"/><circle cx="484.2" cy="1110.1" r="5.4"/><circle cx="487.7" cy="1052.3" r="5.4"/><circle cx="491" cy="1104.6" r="5.4"/><circle cx="493.6" cy="1087.3" r="5.4"/><circle cx="496.8" cy="1128.8" r="5.4"/><circle cx="500.5" cy="1106.2" r="5.4"/><circle cx="503.9" cy="1099.5" r="5.4"/><circle cx="506.7" cy="1136.4" r="5.4"/><circle cx="516.5" cy="1105.1" r="5.4"/><circle cx="519" cy="1080" r="5.4"/><circle cx="522.8" cy="1128.8" r="5.4"/><circle cx="528.9" cy="1095.5" r="5.4"/><circle cx="532.2" cy="1086.3" r="5.4"/><circle cx="535.5" cy="1063.8" r="5.4"/><circle cx="538.6" cy="1104.8" r="5.4"/><circle cx="545.5" cy="1095.1" r="5.4"/><circle cx="554.8" cy="1091" r="5.4"/><circle cx="561.5" cy="1076.1" r="5.4"/><circle cx="564.2" cy="1104.6" r="5.4"/><circle cx="567.6" cy="1116" r="5.4"/><circle cx="570.6" cy="1109.7" r="5.4"/><circle cx="526.9" cy="1143.2" r="5.4"/><circle cx="548.4" cy="1144.3" r="5.4"/><circle cx="91" cy="1096" r="5.4"/><circle cx="78.3" cy="1193" r="5.4"/><circle cx="222.5" cy="1087.1" r="5.4"/><circle cx="348.4" cy="1192.8" r="5.4"/><circle cx="423.4" cy="1165.4" r="5.4"/><circle cx="558.5" cy="1164.9" r="5.4"/><circle cx="322.2" cy="1136.2" r="5.4"/><circle cx="501.2" cy="1109.8" r="5.4"/><circle cx="111.8" cy="930.2" r="5.4"/><circle cx="114.3" cy="931.2" r="5.4"/><circle cx="103.7" cy="948.3" r="5.4"/><circle cx="119.8" cy="940.8" r="5.4"/></g>
<line x1="138" y1="990" x2="508.7" y2="1116.7" stroke="#0a2d96" stroke-width="3.4"/>
<rect x="447" y="1142.5" width="106" height="42" fill="#fff"/>
<rect x="303.8" y="714" width="267.7" height="224.39999999999998" fill="#fff"/>
<g fill="none" stroke="#e00000" stroke-width="2"><circle cx="311.1" cy="906.7" r="6.2"/><path d="M311.1 901V912.4M304.6 901H317.6M304.6 912.4H317.6"/><circle cx="385.2" cy="906.7" r="6.2"/><path d="M385.2 901V912.4M378.7 901H391.7M378.7 912.4H391.7"/><circle cx="422.2" cy="893.3" r="6.2"/><path d="M422.2 887.8V898.8M415.7 887.8H428.7M415.7 898.8H428.7"/><circle cx="459.3" cy="885.9" r="6.2"/><path d="M459.3 880.4V891.4M452.8 880.4H465.8M452.8 891.4H465.8"/><circle cx="459.3" cy="893.3" r="6.2"/><path d="M459.3 887.8V898.8M452.8 887.8H465.8M452.8 898.8H465.8"/><circle cx="497" cy="867.8" r="6.2"/><path d="M497 862.3V873.3M490.5 862.3H503.5M490.5 873.3H503.5"/><circle cx="497" cy="874.1" r="6.2"/><path d="M497 868.6V879.6M490.5 868.6H503.5M490.5 879.6H503.5"/><circle cx="519.1" cy="835.5" r="6.2"/><path d="M519.1 828.3V842.7M512.6 828.3H525.6M512.6 842.7H525.6"/><circle cx="527" cy="806.4" r="6.2"/><path d="M527 797.7V815.1M520.5 797.7H533.5M520.5 815.1H533.5"/><circle cx="534.2" cy="793.8" r="6.2"/><path d="M534.2 780.8V806.8M527.7 780.8H540.7M527.7 806.8H540.7"/><circle cx="541.4" cy="773.6" r="6.2"/><path d="M541.4 754.3V792.9M534.9 754.3H547.9M534.9 792.9H547.9"/><circle cx="541.4" cy="818" r="6.2"/><path d="M541.4 807.8V828.2M534.9 807.8H547.9M534.9 828.2H547.9"/></g>
<g stroke="#000" fill="none">
<rect x="77.2" y="714" width="494.3" height="495.70000000000005" stroke-width="2"/>
<line x1="77.2" y1="1209" x2="83.2" y2="1209" stroke="#000" stroke-width="1.8"/>
<line x1="77.2" y1="1180" x2="83.2" y2="1180" stroke="#000" stroke-width="1.8"/>
<line x1="77.2" y1="1159.4" x2="83.2" y2="1159.4" stroke="#000" stroke-width="1.8"/>
<line x1="77.2" y1="1143.4" x2="83.2" y2="1143.4" stroke="#000" stroke-width="1.8"/>
<line x1="77.2" y1="1130.3" x2="83.2" y2="1130.3" stroke="#000" stroke-width="1.8"/>
<line x1="77.2" y1="1119.3" x2="83.2" y2="1119.3" stroke="#000" stroke-width="1.8"/>
<line x1="77.2" y1="1109.7" x2="83.2" y2="1109.7" stroke="#000" stroke-width="1.8"/>
<line x1="77.2" y1="1101.2" x2="83.2" y2="1101.2" stroke="#000" stroke-width="1.8"/>
<line x1="77.2" y1="1093.7" x2="87.2" y2="1093.7" stroke="#000" stroke-width="1.8"/>
<line x1="77.2" y1="1044" x2="83.2" y2="1044" stroke="#000" stroke-width="1.8"/>
<line x1="77.2" y1="1015" x2="83.2" y2="1015" stroke="#000" stroke-width="1.8"/>
<line x1="77.2" y1="994.4" x2="83.2" y2="994.4" stroke="#000" stroke-width="1.8"/>
<line x1="77.2" y1="978.4" x2="83.2" y2="978.4" stroke="#000" stroke-width="1.8"/>
<line x1="77.2" y1="965.3" x2="83.2" y2="965.3" stroke="#000" stroke-width="1.8"/>
<line x1="77.2" y1="954.3" x2="83.2" y2="954.3" stroke="#000" stroke-width="1.8"/>
<line x1="77.2" y1="944.7" x2="83.2" y2="944.7" stroke="#000" stroke-width="1.8"/>
<line x1="77.2" y1="936.2" x2="83.2" y2="936.2" stroke="#000" stroke-width="1.8"/>
<line x1="77.2" y1="928.7" x2="87.2" y2="928.7" stroke="#000" stroke-width="1.8"/>
<line x1="77.2" y1="879" x2="83.2" y2="879" stroke="#000" stroke-width="1.8"/>
<line x1="77.2" y1="850" x2="83.2" y2="850" stroke="#000" stroke-width="1.8"/>
<line x1="77.2" y1="829.4" x2="83.2" y2="829.4" stroke="#000" stroke-width="1.8"/>
<line x1="77.2" y1="813.4" x2="83.2" y2="813.4" stroke="#000" stroke-width="1.8"/>
<line x1="77.2" y1="800.3" x2="83.2" y2="800.3" stroke="#000" stroke-width="1.8"/>
<line x1="77.2" y1="789.3" x2="83.2" y2="789.3" stroke="#000" stroke-width="1.8"/>
<line x1="77.2" y1="779.7" x2="83.2" y2="779.7" stroke="#000" stroke-width="1.8"/>
<line x1="77.2" y1="771.2" x2="83.2" y2="771.2" stroke="#000" stroke-width="1.8"/>
<line x1="77.2" y1="763.7" x2="87.2" y2="763.7" stroke="#000" stroke-width="1.8"/>
<line x1="110" y1="1199.7" x2="110" y2="1209.7" stroke="#000" stroke-width="1.8"/>
<line x1="242" y1="1199.7" x2="242" y2="1209.7" stroke="#000" stroke-width="1.8"/>
<line x1="374" y1="1199.7" x2="374" y2="1209.7" stroke="#000" stroke-width="1.8"/>
<line x1="506" y1="1199.7" x2="506" y2="1209.7" stroke="#000" stroke-width="1.8"/>
<line x1="303.8" y1="714" x2="303.8" y2="938.4" stroke="#000" stroke-width="2"/>
<line x1="303.8" y1="938.4" x2="571.5" y2="938.4" stroke="#000" stroke-width="2"/>
<line x1="303.8" y1="938.4" x2="314.8" y2="938.4" stroke="#000" stroke-width="1.8"/>
<line x1="560.5" y1="938.4" x2="571.5" y2="938.4" stroke="#000" stroke-width="1.8"/>
<line x1="303.8" y1="906.4" x2="310.8" y2="906.4" stroke="#000" stroke-width="1.8"/>
<line x1="564.5" y1="906.4" x2="571.5" y2="906.4" stroke="#000" stroke-width="1.8"/>
<line x1="303.8" y1="874.4" x2="314.8" y2="874.4" stroke="#000" stroke-width="1.8"/>
<line x1="560.5" y1="874.4" x2="571.5" y2="874.4" stroke="#000" stroke-width="1.8"/>
<line x1="303.8" y1="842.4" x2="310.8" y2="842.4" stroke="#000" stroke-width="1.8"/>
<line x1="564.5" y1="842.4" x2="571.5" y2="842.4" stroke="#000" stroke-width="1.8"/>
<line x1="303.8" y1="810.4" x2="314.8" y2="810.4" stroke="#000" stroke-width="1.8"/>
<line x1="560.5" y1="810.4" x2="571.5" y2="810.4" stroke="#000" stroke-width="1.8"/>
<line x1="303.8" y1="778.4" x2="310.8" y2="778.4" stroke="#000" stroke-width="1.8"/>
<line x1="564.5" y1="778.4" x2="571.5" y2="778.4" stroke="#000" stroke-width="1.8"/>
<line x1="303.8" y1="746.4" x2="314.8" y2="746.4" stroke="#000" stroke-width="1.8"/>
<line x1="560.5" y1="746.4" x2="571.5" y2="746.4" stroke="#000" stroke-width="1.8"/>
<line x1="303.8" y1="714.4" x2="310.8" y2="714.4" stroke="#000" stroke-width="1.8"/>
<line x1="564.5" y1="714.4" x2="571.5" y2="714.4" stroke="#000" stroke-width="1.8"/>
<line x1="310.4" y1="714" x2="310.4" y2="725" stroke="#000" stroke-width="1.8"/>
<line x1="310.4" y1="927.4" x2="310.4" y2="938.4" stroke="#000" stroke-width="1.8"/>
<line x1="385.2" y1="714" x2="385.2" y2="725" stroke="#000" stroke-width="1.8"/>
<line x1="385.2" y1="927.4" x2="385.2" y2="938.4" stroke="#000" stroke-width="1.8"/>
<line x1="460" y1="714" x2="460" y2="725" stroke="#000" stroke-width="1.8"/>
<line x1="460" y1="927.4" x2="460" y2="938.4" stroke="#000" stroke-width="1.8"/>
<line x1="534.8" y1="714" x2="534.8" y2="725" stroke="#000" stroke-width="1.8"/>
<line x1="534.8" y1="927.4" x2="534.8" y2="938.4" stroke="#000" stroke-width="1.8"/>
</g>
<g fill="#000">
<text x="22.15" y="27.30" font-size="35.89" font-weight="bold" textLength="17.22" lengthAdjust="spacingAndGlyphs">a</text>
<text x="221.55" y="105.40" font-size="34.48" textLength="148.53" lengthAdjust="spacingAndGlyphs">As-grown</text>
<text x="230.90" y="196.30" font-size="34.28" textLength="70.03" lengthAdjust="spacingAndGlyphs">p-i-n</text>
<text x="483.00" y="103.10" font-size="34.38" textLength="74.21" lengthAdjust="spacingAndGlyphs">2 ML</text>
<text x="483.45" y="266.50" font-size="34.78" textLength="73.71" lengthAdjust="spacingAndGlyphs">8 ML</text>
<text x="467.25" y="423.00" font-size="33.53" textLength="92.38" lengthAdjust="spacingAndGlyphs">16M L</text>
<text x="125.75" y="580.70" font-size="30.30" stroke="#000" stroke-width="0.5" textLength="17.39" lengthAdjust="spacingAndGlyphs">0</text>
<text x="225.60" y="580.70" font-size="30.30" stroke="#000" stroke-width="0.5" textLength="15.49" lengthAdjust="spacingAndGlyphs">5</text>
<text x="316.45" y="580.70" font-size="30.30" stroke="#000" stroke-width="0.5" textLength="33.67" lengthAdjust="spacingAndGlyphs">10</text>
<text x="415.25" y="580.70" font-size="30.30" stroke="#000" stroke-width="0.5" textLength="33.07" lengthAdjust="spacingAndGlyphs">15</text>
<text x="512.10" y="580.70" font-size="30.30" stroke="#000" stroke-width="0.5" textLength="34.97" lengthAdjust="spacingAndGlyphs">20</text>
<text x="258.70" y="641.65" font-size="29.72" textLength="134.75" lengthAdjust="spacingAndGlyphs">Time (ns)</text>
<text transform="translate(39.30,396.40) rotate(-90)" font-size="29.39" textLength="177.02" lengthAdjust="spacingAndGlyphs">PL Intensity</text>
<text x="21.40" y="696.25" font-size="33.81" font-weight="bold" textLength="21.58" lengthAdjust="spacingAndGlyphs">b</text>
<text transform="translate(30.30,1059.60) rotate(-90)" font-size="29.87" textLength="178.22" lengthAdjust="spacingAndGlyphs">PL Intensity</text>
<text x="101.05" y="1245.97" font-size="30.35" stroke="#000" stroke-width="0.5" textLength="17.44" lengthAdjust="spacingAndGlyphs">0</text>
<text x="233.25" y="1245.97" font-size="30.35" stroke="#000" stroke-width="0.5" textLength="17.04" lengthAdjust="spacingAndGlyphs">2</text>
<text x="365.90" y="1245.97" font-size="30.35" stroke="#000" stroke-width="0.5" textLength="17.34" lengthAdjust="spacingAndGlyphs">4</text>
<text x="498.45" y="1245.97" font-size="30.35" stroke="#000" stroke-width="0.5" textLength="15.84" lengthAdjust="spacingAndGlyphs">6</text>
<text x="257.30" y="1294.45" font-size="29.72" textLength="133.55" lengthAdjust="spacingAndGlyphs">Time (ns)</text>
<text x="112.15" y="1187.75" font-size="35.11" textLength="91.69" lengthAdjust="spacingAndGlyphs">-1.1 V</text>
<text x="451.80" y="1178.40" font-size="36.39" textLength="99.17" lengthAdjust="spacingAndGlyphs">+0.8 V</text>
<text x="282.15" y="949.35" font-size="30.35" stroke="#000" stroke-width="0.5" textLength="14.68" lengthAdjust="spacingAndGlyphs">0</text>
<text x="282.00" y="885.00" font-size="30.35" stroke="#000" stroke-width="0.5" textLength="14.58" lengthAdjust="spacingAndGlyphs">2</text>
<text x="282.40" y="820.40" font-size="30.35" stroke="#000" stroke-width="0.5" textLength="14.18" lengthAdjust="spacingAndGlyphs">4</text>
<text x="281.70" y="756.75" font-size="30.35" stroke="#000" stroke-width="0.5" textLength="15.38" lengthAdjust="spacingAndGlyphs">6</text>
<text x="295.15" y="972.82" font-size="30.35" stroke="#000" stroke-width="0.5" textLength="30.64" lengthAdjust="spacingAndGlyphs">−2</text>
<text x="370.15" y="972.82" font-size="30.35" stroke="#000" stroke-width="0.5" textLength="27.04" lengthAdjust="spacingAndGlyphs">−1</text>
<text x="451.75" y="972.82" font-size="30.35" stroke="#000" stroke-width="0.5" textLength="15.88" lengthAdjust="spacingAndGlyphs">0</text>
<text x="528.45" y="972.82" font-size="30.35" stroke="#000" stroke-width="0.5" textLength="9.28" lengthAdjust="spacingAndGlyphs">1</text>
<text transform="translate(255.30,954.30) rotate(-90)" font-size="28.19" textLength="215.27" lengthAdjust="spacingAndGlyphs">Decay Time (ns)</text>
<text x="385.50" y="1004.85" font-size="32.07" textLength="19.34" lengthAdjust="spacingAndGlyphs">V</text>
<text x="404.25" y="1012.00" font-size="18.19" textLength="39.75" lengthAdjust="spacingAndGlyphs">Bias</text>
<text x="450.10" y="1001.35" font-size="27.72" textLength="39.87" lengthAdjust="spacingAndGlyphs">(V)</text>
</g>
</svg>
</body></html>
